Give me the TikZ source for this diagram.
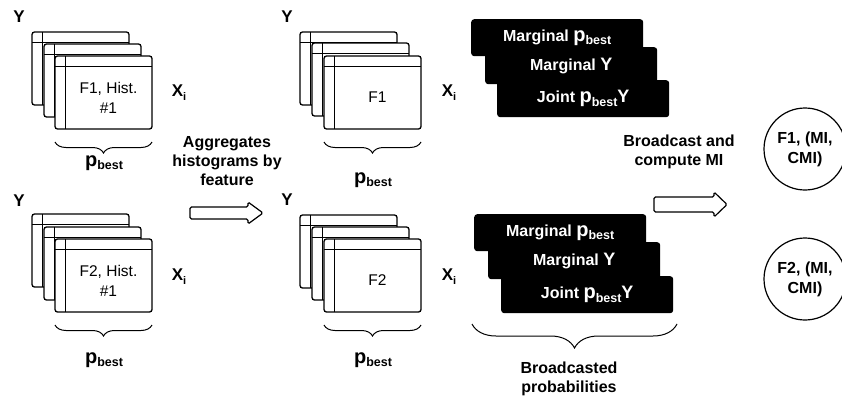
\documentclass[tikz,border=0pt]{standalone}
\usepackage{fontspec}
\setmainfont{Liberation Sans}
\usetikzlibrary{decorations.pathreplacing,calc}
\newcommand{\pbest}{{\fontsize{20}{20}\selectfont p}\raisebox{-3.5pt}{\fontsize{12.5}{12}\selectfont best}}
\newcommand{\xsubi}{X\raisebox{-4pt}{\fontsize{11}{11}\selectfont i}}
\newcommand{\histcard}[2]{%
  \node[card] (#1) at (#2) {};
  \draw[cardline] ([xshift=10pt]#1.north west) -- ([xshift=10pt]#1.south west);
  \draw[cardline] ([yshift=-10pt]#1.north west) -- ([yshift=-10pt]#1.north east);
}
\begin{document}
\begin{tikzpicture}[x=1pt,y=-1pt,
  card/.style={draw,line width=1.3pt,rounded corners=2.5pt,fill=white,minimum width=97pt,minimum height=73pt,anchor=north west,inner sep=0pt,outer sep=0pt},
  cardline/.style={line width=0.9pt},
  cardtext/.style={font=\fontsize{15.5}{20}\selectfont, align=center},
  lbl/.style={font=\fontsize{16}{19}\selectfont\bfseries, align=center},
  big/.style={font=\fontsize{17}{19}\selectfont\bfseries},
  probbox/.style={fill=black,rounded corners=3pt,minimum width=172pt,minimum height=37pt,anchor=north west,inner sep=0pt,text=white,font=\fontsize{16}{19}\selectfont\bfseries},
  bracestyle/.style={decorate,decoration={brace,mirror,amplitude=#1},line width=1pt},
  blockarrow/.style={draw,line width=1.2pt,fill=white,rounded corners=1.5pt},
  result/.style={circle,draw,line width=1.2pt,minimum size=82pt,inner sep=0pt,align=center,font=\fontsize{16}{20}\selectfont\bfseries}]
\useasboundingbox (0,0) rectangle (842,399);
\clip (0,0) rectangle (842,399);

% group 1
\histcard{a1}{32,32}
\histcard{a2}{44,44}
\histcard{a3}{55,56}
\node[cardtext] (a3t) at ($([xshift=10pt,yshift=-10pt]a3.north west)!0.5!(a3.south east)$) {F1, Hist.\\\#1};
\node[big] (ya) at (19,17) {Y};
\node[big] (xa) at (179,93) {\xsubi};
\draw[bracestyle=11pt] ([yshift=-13pt]a3.south west) -- ([yshift=-13pt]a3.south east);
\node[lbl] (pa) at (104,163) {\pbest};

% group 2
\histcard{b1}{32,214}
\histcard{b2}{44,227}
\histcard{b3}{55,239}
\node[cardtext] (b3t) at ($([xshift=10pt,yshift=-10pt]b3.north west)!0.5!(b3.south east)$) {F2, Hist.\\\#1};
\node[big] (yb) at (19,201) {Y};
\node[big] (xb) at (179,277) {\xsubi};
\draw[bracestyle=11pt] ([yshift=-13pt]b3.south west) -- ([yshift=-13pt]b3.south east);
\node[lbl] (pb) at (104,360) {\pbest};

% group 3
\histcard{c1}{300,32}
\histcard{c2}{312,43}
\histcard{c3}{324,56}
\node[cardtext] (c3t) at ($([xshift=10pt,yshift=-10pt]c3.north west)!0.5!(c3.south east)$) {F1};
\node[big] (yc) at (287,17) {Y};
\node[big] (xc) at (449,93) {\xsubi};
\draw[bracestyle=11pt] ([yshift=-13pt]c3.south west) -- ([yshift=-13pt]c3.south east);
\node[lbl] (pc) at (373,180) {\pbest};

% group 4
\histcard{d1}{300,215}
\histcard{d2}{312,227}
\histcard{d3}{324,239}
\node[cardtext] (d3t) at ($([xshift=10pt,yshift=-10pt]d3.north west)!0.5!(d3.south east)$) {F2};
\node[big] (yd) at (287,200) {Y};
\node[big] (xd) at (449,277) {\xsubi};
\draw[bracestyle=11pt] ([yshift=-13pt]d3.south west) -- ([yshift=-13pt]d3.south east);
\node[lbl] (pd) at (373,360) {\pbest};

% aggregation text and arrow
\node[lbl] (agg) at (227,161) {Aggregates\\histograms by\\feature};
\draw[blockarrow] (190,207) -- (248,207) -- (248,202) -- (263,213) -- (248,224) -- (248,219) -- (190,219) -- cycle;

% probability boxes top
\node[probbox] (e1) at (471,19) {Marginal \pbest};
\node[probbox] (e2) at (485,47) {Marginal {\fontsize{18}{18}\selectfont Y}};
\node[probbox] (e3) at (497,80) {Joint \pbest{\fontsize{18}{18}\selectfont Y}};

% probability boxes bottom
\node[probbox] (f1) at (474,214) {Marginal \pbest};
\node[probbox] (f2) at (488,242) {Marginal {\fontsize{18}{18}\selectfont Y}};
\node[probbox] (f3) at (501,276) {Joint \pbest{\fontsize{18}{18}\selectfont Y}};
\draw[bracestyle=24pt] (472,324) -- (677,324);
\node[lbl] (bp) at (569,379) {Broadcasted\\probabilities};

% broadcast text and arrow
\node[lbl] (bc) at (679,152) {Broadcast and\\compute MI};
\draw[blockarrow] (654,197) -- (714,197) -- (714,192) -- (727,204.5) -- (714,217) -- (714,212) -- (654,212) -- cycle;

% results
\node[result] (r1) at (805,149) {F1, (MI,\\CMI)};
\node[result] (r2) at (805,279) {F2, (MI,\\CMI)};
\end{tikzpicture}
\end{document}
